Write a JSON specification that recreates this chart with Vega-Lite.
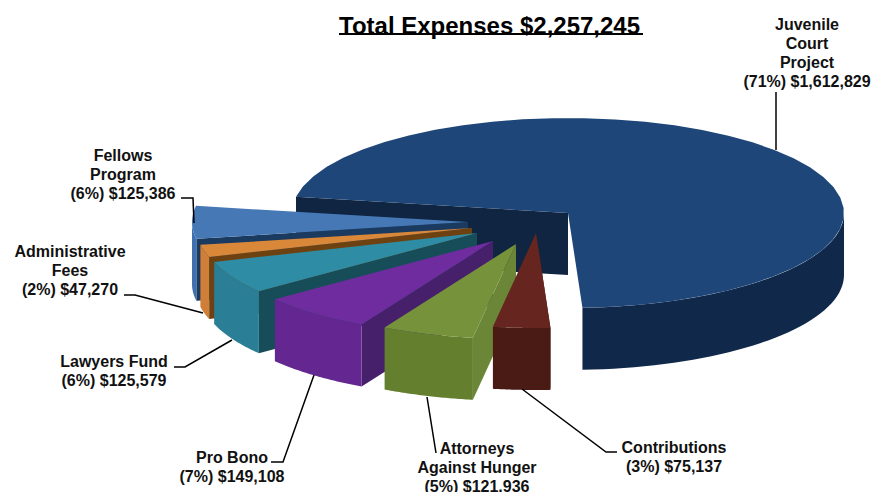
{
"$schema":"https://vega.github.io/schema/vega-lite/v6.json",
"width":893,"height":492,"padding":0,"autosize":{"type":"none"},
"background":"white",
"view":{"stroke":null},
"title":{"text":"Total Expenses $2,257,245","anchor":"start","frame":"group","dx":339,"dy":39,"offset":0,"font":"Liberation Sans","fontSize":24,"fontWeight":"bold","color":"#000000"},
"data":{"values":[
{"name":"Juvenile Court Project","label":"Juvenile\nCourt\nProject\n(71%) $1,612,829","amount":1612829},
{"name":"Fellows Program","label":"Fellows\nProgram\n(6%) $125,386","amount":125386},
{"name":"Administrative Fees","label":"Administrative\nFees\n(2%) $47,270","amount":47270},
{"name":"Lawyers Fund","label":"Lawyers Fund\n(6%) $125,579","amount":125579},
{"name":"Pro Bono","label":"Pro Bono\n(7%) $149,108","amount":149108},
{"name":"Attorneys Against Hunger","label":"Attorneys\nAgainst Hunger\n(5%) $121,936","amount":121936},
{"name":"Contributions","label":"Contributions\n(3%) $75,137","amount":75137}
]},
"transform":[
{"joinaggregate":[{"op":"sum","field":"amount","as":"total"}]},
{"window":[{"op":"sum","field":"amount","as":"cum"},{"op":"row_number","as":"rn"}]},
{"calculate":"datum.rn-1","as":"idx"},
{"calculate":"447-360*(datum.cum-datum.amount)/datum.total","as":"tHi"},
{"calculate":"447-360*datum.cum/datum.total","as":"tLo"},
{"calculate":"[568,468,472,477,493,516,536][datum.idx]","as":"cx"},
{"calculate":"[213,222,228,233,241,244,233][datum.idx]","as":"cy"}
],
"encoding":{
"x":{"field":"px","type":"quantitative","scale":{"domain":[0,893]},"axis":null},
"y":{"field":"py","type":"quantitative","scale":{"domain":[0,492],"reverse":true},"axis":null}
},
"resolve":{"scale":{"color":"independent"}},
"layer":[
{"transform":[
{"calculate":"sequence(0,4)","as":"k"},{"flatten":["k"]},
{"calculate":"datum.cx+((datum.k==1||datum.k==2)?276*cos(datum.tLo*PI/180):0)","as":"px"},
{"calculate":"datum.cy+((datum.k==1||datum.k==2)?95*sin(datum.tLo*PI/180):0)+(datum.k>=2?62:0)","as":"py"}],
"mark":{"type":"line","filled":true,"strokeWidth":0,"interpolate":"linear-closed"},
"encoding":{"order":{"field":"k","type":"quantitative"},"detail":{"field":"name"},"color":{"field":"name","type":"nominal","legend":null,"scale":{"domain":["Juvenile Court Project","Fellows Program","Administrative Fees","Lawyers Fund","Pro Bono","Attorneys Against Hunger","Contributions"],"range":["#0f2542","#1a3a60","#6d4210","#174d58","#47206c","#6b8636","#4a1a14"]}}}},
{"transform":[
{"calculate":"sequence(0,82)","as":"k"},{"flatten":["k"]},
{"calculate":"datum.tHi>360?max(datum.tLo,360):datum.tLo","as":"wLo"},
{"calculate":"datum.tHi>360?datum.tHi:min(datum.tHi,180)","as":"wHi"},
{"calculate":"(datum.wLo+(datum.wHi-datum.wLo)*(datum.k<=40?datum.k:81-datum.k)/40)*PI/180","as":"a"},
{"calculate":"datum.cx+276*cos(datum.a)","as":"px"},
{"calculate":"datum.cy+95*sin(datum.a)+(datum.k>40?62:0)","as":"py"}],
"mark":{"type":"line","filled":true,"strokeWidth":0,"interpolate":"linear-closed"},
"encoding":{"order":{"field":"k","type":"quantitative"},"detail":{"field":"name"},"color":{"field":"name","type":"nominal","legend":null,"scale":{"domain":["Juvenile Court Project","Fellows Program","Administrative Fees","Lawyers Fund","Pro Bono","Attorneys Against Hunger","Contributions"],"range":["#10294b","#3f6fae","#cf7f38","#2a7f97","#642792","#64802f","#4a1a14"]}}}},
{"transform":[
{"calculate":"sequence(-1,41)","as":"k"},{"flatten":["k"]},
{"calculate":"(datum.tLo+(datum.tHi-datum.tLo)*datum.k/40)*PI/180","as":"a"},
{"calculate":"datum.cx+(datum.k<0?0:276*cos(datum.a))","as":"px"},
{"calculate":"datum.cy+(datum.k<0?0:95*sin(datum.a))","as":"py"}],
"mark":{"type":"line","filled":true,"strokeWidth":0,"interpolate":"linear-closed"},
"encoding":{"order":{"field":"k","type":"quantitative"},"detail":{"field":"name"},"color":{"field":"name","type":"nominal","legend":null,"scale":{"domain":["Juvenile Court Project","Fellows Program","Administrative Fees","Lawyers Fund","Pro Bono","Attorneys Against Hunger","Contributions"],"range":["#1f4679","#4678b6","#d98738","#2f8ca5","#6f2c9f","#76933b","#66251f"]}}}},
{"transform":[
{"calculate":"[[776,776],[181,193,194],[124,135,203],[174,185,232],[271,283,314],[436,427],[617,606,522]][datum.idx]","as":"px"},
{"calculate":"[[92,150],[198,198,223],[295,295,313],[367,367,340],[462,462,375],[453,397],[452,452,389]][datum.idx]","as":"py"},
{"calculate":"[0,1,2]","as":"k"},
{"flatten":["px","py","k"]},
{"filter":"isValid(datum.px)"}],
"mark":{"type":"line","stroke":"#000000","strokeWidth":1.5},
"encoding":{"order":{"field":"k","type":"quantitative"},"detail":{"field":"name"}}},
{"transform":[
{"calculate":"[807,123,70,114,232,477,674][datum.idx]","as":"px"},
{"calculate":"[30,161,257,367,463,454,453][datum.idx]","as":"py"}],
"mark":{"type":"text","lineBreak":"\n","lineHeight":19,"align":"center","baseline":"alphabetic","font":"Liberation Sans","fontSize":16,"fontWeight":"bold","color":"#111111"},
"encoding":{"text":{"field":"label"}}},
{"transform":[{"filter":"datum.idx==0"},
{"calculate":"339","as":"px"},{"calculate":"643","as":"px2"},{"calculate":"34","as":"py"}],
"mark":{"type":"rule","stroke":"#000000","strokeWidth":2},
"encoding":{"x2":{"field":"px2"}}}
]
}
